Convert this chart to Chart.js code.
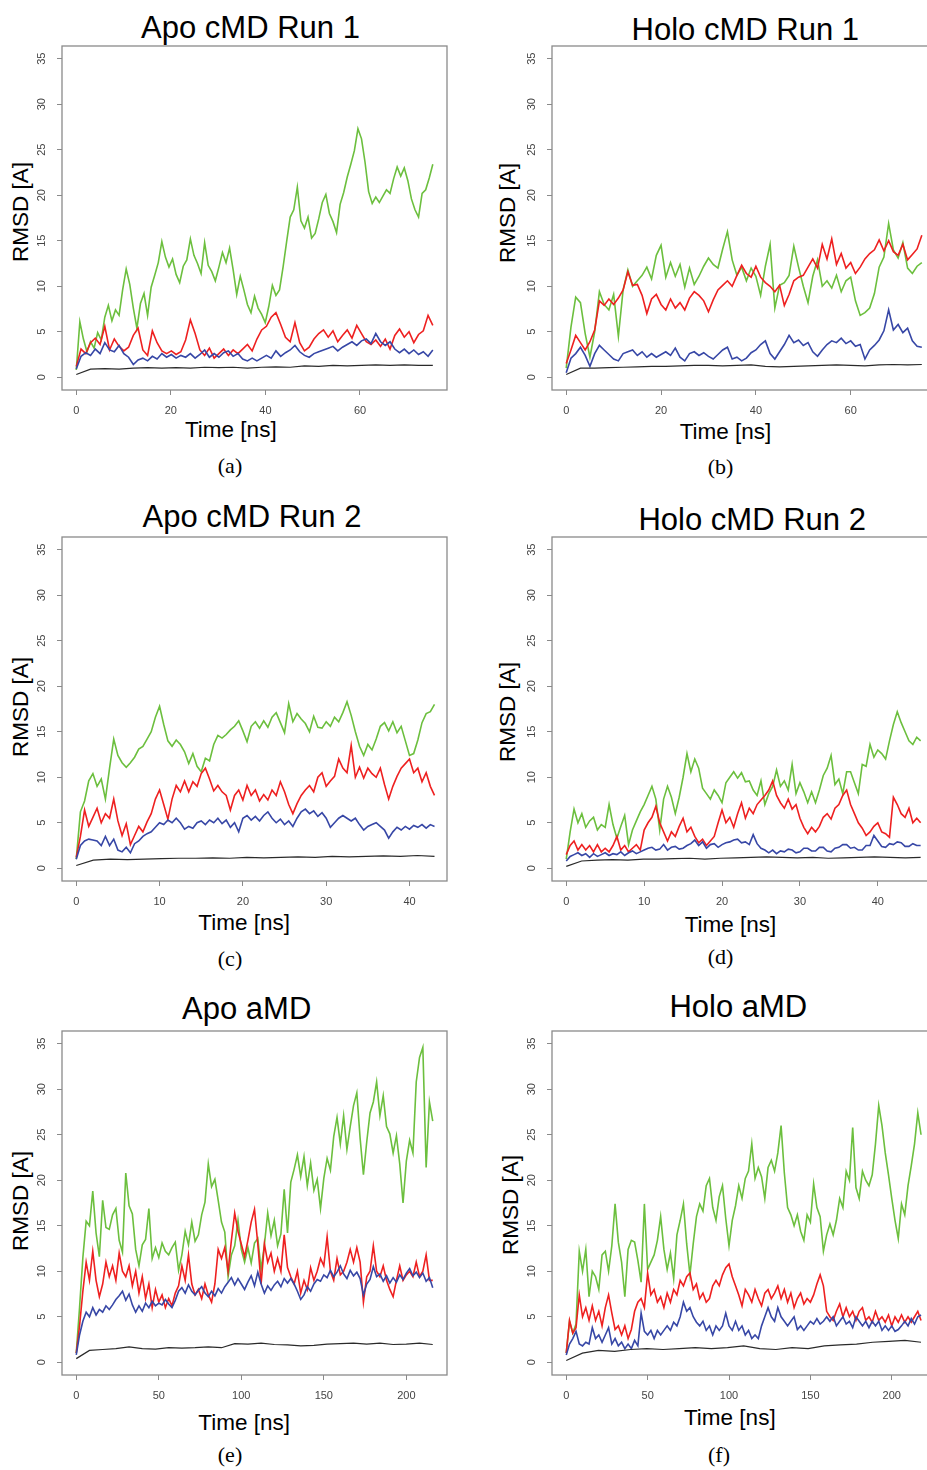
<!DOCTYPE html>
<html><head><meta charset="utf-8">
<script src="https://cdn.jsdelivr.net/npm/chart.js@4.4.1/dist/chart.umd.min.js"></script>
<style>
html,body{margin:0;padding:0;background:#fff;}
body{width:927px;height:1470px;position:relative;overflow:hidden;font-family:"Liberation Sans",Arial,sans-serif;}
.t{position:absolute;white-space:nowrap;line-height:1;transform:translate(-50%,-50%);color:#000;}
.title{font-size:31px;}
.xl{font-size:22.5px;}
.yl{font-size:22.5px;transform:translate(-50%,-50%) rotate(-90deg);}
.cap{font-family:"Liberation Serif","DejaVu Serif",serif;font-size:22px;}
canvas{position:absolute;}
</style></head><body>

<div class="t title" style="left:250.5px;top:27.2px">Apo cMD Run 1</div>
<div class="t yl" style="left:20.8px;top:211.7px">RMSD [A]</div>
<div class="t xl" style="left:230.8px;top:430px">Time [ns]</div>
<div class="t cap" style="left:230px;top:466px">(a)</div>

<div class="t title" style="left:745.3px;top:29.2px">Holo cMD Run 1</div>
<div class="t yl" style="left:508.2px;top:213px">RMSD [A]</div>
<div class="t xl" style="left:725.5px;top:432px">Time [ns]</div>
<div class="t cap" style="left:720.5px;top:467px">(b)</div>

<div class="t title" style="left:252px;top:515.5px">Apo cMD Run 2</div>
<div class="t yl" style="left:20.8px;top:706.7px">RMSD [A]</div>
<div class="t xl" style="left:244.2px;top:922.5px">Time [ns]</div>
<div class="t cap" style="left:230px;top:958.6px">(c)</div>

<div class="t title" style="left:752.2px;top:518.8px">Holo cMD Run 2</div>
<div class="t yl" style="left:508.2px;top:711.7px">RMSD [A]</div>
<div class="t xl" style="left:730.5px;top:924.7px">Time [ns]</div>
<div class="t cap" style="left:720.5px;top:957px">(d)</div>

<div class="t title" style="left:246.7px;top:1007.5px">Apo aMD</div>
<div class="t yl" style="left:20.8px;top:1201px">RMSD [A]</div>
<div class="t xl" style="left:244.2px;top:1422.5px">Time [ns]</div>
<div class="t cap" style="left:230px;top:1455.3px">(e)</div>

<div class="t title" style="left:738.3px;top:1005.5px">Holo aMD</div>
<div class="t yl" style="left:510.8px;top:1205px">RMSD [A]</div>
<div class="t xl" style="left:729.8px;top:1417.5px">Time [ns]</div>
<div class="t cap" style="left:719px;top:1455px">(f)</div>

<canvas id="cA" width="440" height="397" style="left:17px;top:28px"></canvas>
<canvas id="cB" width="440" height="397" style="left:507px;top:28px"></canvas>
<canvas id="cC" width="440" height="397" style="left:17px;top:519px"></canvas>
<canvas id="cD" width="440" height="397" style="left:507px;top:519px"></canvas>
<canvas id="cE" width="440" height="397" style="left:17px;top:1013px"></canvas>
<canvas id="cF" width="440" height="397" style="left:507px;top:1013px"></canvas>

<script>
// ---------- tick labels ----------
const yTicks = [0,5,10,15,20,25,30,35];
const xTicksRun1 = [0,20,40,60];
const xTicksRun2 = [0,10,20,30,40];
const xTicksAmd = [0,50,100,150,200];

// ---------- run lengths (ns) ----------
const durApo1 = 75.4, durHolo1 = 75, durApo2 = 43, durHolo2 = 45.5, durApoA = 216, durHoloA = 218;

// ---------- (a) Apo cMD Run 1 ----------
const apo1Green = [0.8,6.1,4.2,2.8,3.9,3.2,4.9,4.1,6.6,7.9,
 6.2,7.4,6.8,9.6,11.9,10.2,7.6,5.4,8.1,9.2,
 6.8,9.9,11.2,12.6,14.9,13.2,12.1,13.0,11.3,10.4,
 12.2,12.9,15.2,13.4,12.5,11.4,14.8,12.3,11.6,10.6,
 12.1,13.7,12.6,14.2,11.8,9.1,11.1,9.6,8.0,7.1,
 8.9,7.6,6.9,6.0,7.8,10.1,9.0,9.6,12.1,14.9,
 17.6,18.4,20.9,17.2,16.4,17.6,15.3,15.8,17.4,19.2,
 20.1,18.0,17.1,15.9,19.0,20.3,22.0,23.4,24.9,27.3,
 26.2,23.6,20.4,19.1,19.8,19.2,19.9,20.6,20.2,21.8,
 23.1,22.1,23.0,21.6,19.6,18.4,17.6,20.2,20.6,21.9,
 23.4];
const apo1Red = [1.2,3.1,2.6,3.8,4.3,3.6,5.6,3.0,4.2,3.4,
 2.9,3.3,4.6,5.4,3.0,2.4,5.1,3.8,2.9,2.6,
 2.9,2.5,2.8,4.1,6.3,4.8,3.0,2.4,3.2,2.1,
 2.6,3.1,2.4,3.0,2.6,3.1,3.6,2.9,4.2,5.2,
 5.6,6.6,7.1,5.8,4.4,3.9,6.0,3.8,2.9,3.3,
 4.2,4.8,5.2,4.4,5.1,3.9,4.6,5.2,4.3,5.7,
 4.8,3.9,3.6,4.1,3.4,4.2,3.1,4.6,5.3,4.4,
 5.0,3.8,4.7,5.1,6.8,5.7];
const apo1Blue = [0.9,2.3,2.7,2.4,3.1,2.6,3.8,3.0,2.8,3.5,
 2.6,2.2,1.4,1.9,2.1,1.8,2.3,2.0,2.6,2.2,
 2.5,2.1,2.4,2.2,2.6,2.1,2.5,3.0,2.2,2.6,
 2.2,2.7,2.9,2.3,2.6,2.0,1.8,2.1,1.8,2.1,
 2.4,2.1,2.9,2.3,2.7,3.0,3.5,2.8,2.4,2.2,
 2.6,2.8,3.0,3.2,3.4,2.9,3.3,3.6,3.9,3.5,
 4.0,4.2,3.7,4.8,3.9,3.5,3.9,3.1,2.7,3.1,
 2.6,3.0,2.5,2.8,2.3,3.0];
const apo1Black = [0.3,0.9,0.95,0.9,1.0,1.05,1.0,1.05,1.0,1.1,1.05,1.1,1.0,1.1,1.15,1.1,1.25,1.2,1.3,1.25,1.3,1.35,1.3,1.35,1.3,1.3];

// ---------- (b) Holo cMD Run 1 ----------
const holo1Green = [1.0,5.5,8.8,8.2,4.8,2.2,5.0,9.4,8.0,7.4,
 9.1,4.5,9.6,11.8,10.0,10.6,11.2,12.1,10.8,13.4,
 14.5,11.0,12.6,11.1,12.4,9.9,12.0,10.2,11.1,12.2,
 13.1,12.4,12.0,14.1,16.0,12.9,11.2,12.1,10.6,12.0,
 11.1,9.0,12.2,14.6,7.6,10.1,10.4,11.2,14.4,12.1,
 10.0,8.2,11.1,12.9,10.0,10.6,9.8,11.2,9.4,10.6,
 11.0,8.4,6.8,7.1,7.6,9.2,12.1,13.2,16.9,14.0,
 13.1,14.8,12.0,11.4,12.2,12.6];
const holo1Red = [1.5,3.0,4.6,3.8,3.0,3.9,5.2,8.4,7.9,8.6,
 8.0,8.7,9.6,11.6,10.1,10.2,9.0,7.0,8.6,9.1,
 8.0,7.4,8.6,7.6,8.2,7.4,8.7,9.4,9.0,8.4,
 7.2,8.5,9.6,10.1,10.6,10.0,11.2,12.3,11.4,11.0,
 12.2,11.0,10.4,10.0,9.4,10.1,7.9,9.1,10.6,11.0,
 11.2,12.1,13.0,12.0,14.6,13.0,15.2,12.4,13.6,12.0,
 12.6,11.4,12.1,13.0,13.6,14.0,15.1,13.9,15.0,13.8,
 13.4,14.6,12.9,13.5,14.1,15.6];
const holo1Blue = [0.5,2.1,2.6,3.3,2.4,1.2,2.6,3.5,3.0,2.5,
 2.0,1.8,2.6,2.8,3.0,2.4,2.8,2.2,2.6,2.2,
 2.5,2.8,2.4,3.2,2.2,1.8,2.6,2.8,2.4,2.7,
 2.3,2.0,2.5,3.0,3.3,2.0,2.2,1.8,2.1,2.7,
 3.0,3.6,4.0,2.6,2.0,2.8,3.6,4.6,3.8,4.1,
 3.5,3.8,2.8,2.3,3.0,3.6,4.0,3.8,4.3,3.7,
 4.0,3.4,3.6,2.0,3.0,3.5,4.1,5.1,7.4,5.2,
 5.8,4.9,5.4,4.0,3.4,3.3];
const holo1Black = [0.3,1.0,1.0,1.05,1.1,1.15,1.2,1.2,1.25,1.3,1.3,1.25,1.3,1.35,1.2,1.15,1.2,1.25,1.3,1.35,1.3,1.25,1.35,1.4,1.35,1.4];

// ---------- (c) Apo cMD Run 2 ----------
const apo2Green = [1.0,6.2,7.4,9.6,10.4,9.0,9.8,7.6,11.0,14.2,
 12.4,11.6,11.1,11.6,12.2,13.1,13.4,14.2,15.0,16.6,
 17.8,15.8,14.0,13.4,14.1,13.6,12.8,11.5,12.6,11.2,
 10.6,12.1,11.8,13.6,14.6,14.3,14.7,15.2,15.6,16.2,
 15.1,13.9,15.6,16.1,15.4,16.2,15.5,16.6,17.1,16.0,
 14.9,18.1,16.1,17.0,16.4,15.9,15.0,16.7,15.5,15.4,
 16.1,15.6,16.6,16.1,17.1,18.3,16.8,15.0,13.4,12.4,
 13.6,13.0,14.2,15.6,16.0,15.1,16.1,14.9,15.6,14.0,
 12.4,12.6,14.1,16.0,17.0,17.2,18.0];
const apo2Red = [1.2,3.5,6.4,4.6,5.6,6.6,5.0,6.0,5.5,7.6,
 5.2,3.6,4.9,2.6,3.6,4.6,4.0,5.1,6.0,7.6,
 8.6,7.0,5.4,7.6,9.1,8.4,9.6,8.4,9.5,9.0,
 10.4,11.0,9.8,8.5,9.1,8.4,8.0,6.4,8.0,8.6,
 7.5,9.1,8.0,8.6,7.4,8.1,7.5,8.6,8.0,9.5,
 8.4,7.0,6.0,7.1,8.0,8.6,9.1,8.4,10.0,10.5,
 9.0,9.6,10.1,12.0,11.0,10.5,13.5,10.0,11.1,9.9,
 11.0,10.4,10.0,11.0,9.2,7.6,9.0,10.1,11.0,11.5,
 12.0,10.5,11.0,9.5,10.5,9.0,8.0];
const apo2Blue = [1.0,2.5,3.0,3.2,3.1,3.0,2.5,3.5,2.5,3.2,
 2.0,1.8,2.3,1.7,2.7,3.0,3.5,3.8,4.0,4.5,
 5.0,4.8,5.3,5.0,5.5,5.0,4.3,4.6,4.4,5.0,
 5.2,4.8,5.3,5.0,5.5,4.9,5.3,4.5,5.0,4.0,
 5.5,5.8,5.3,5.7,5.2,5.8,6.2,5.5,5.0,5.4,
 4.8,5.2,4.6,5.5,6.2,6.5,6.0,6.3,5.7,6.1,
 5.5,4.5,5.0,5.5,5.8,5.5,5.2,5.5,4.8,4.2,
 4.6,4.8,5.0,4.6,4.2,3.3,4.0,4.5,4.2,4.6,
 4.3,4.7,4.5,4.8,4.4,4.8,4.6];
const apo2Black = [0.3,0.9,1.0,0.95,1.0,1.05,1.1,1.1,1.15,1.1,1.2,1.15,1.2,1.25,1.2,1.3,1.25,1.3,1.35,1.3,1.4,1.3];

// ---------- (d) Holo cMD Run 2 ----------
const holo2Green = [1.0,4.0,6.5,5.0,6.0,4.5,5.2,5.6,4.2,4.8,
 4.5,7.0,4.8,3.3,4.6,5.8,2.6,4.2,5.2,6.2,
 7.0,8.0,9.0,7.6,4.2,7.6,9.0,7.8,6.0,7.8,
 10.0,12.6,10.6,12.0,11.0,8.8,8.2,7.6,8.6,8.0,
 7.2,9.4,10.0,10.6,9.9,10.5,9.5,9.6,8.6,8.0,
 9.6,7.0,8.2,9.0,10.8,9.0,9.6,8.6,11.4,8.2,
 9.4,8.4,7.2,8.4,7.2,8.6,10.2,11.0,12.4,9.2,
 9.8,8.2,10.6,10.6,9.4,8.2,11.4,11.2,13.6,12.2,
 13.0,12.6,12.0,14.0,15.8,17.2,16.0,15.0,14.0,13.6,
 14.4,14.0];
const holo2Red = [1.5,2.5,3.0,2.0,2.6,2.0,2.5,1.8,2.6,1.8,
 2.2,1.8,2.5,3.5,2.0,2.5,1.8,2.2,2.6,2.0,
 4.2,5.0,5.6,6.8,5.0,4.0,3.0,4.0,3.5,4.6,
 5.5,4.0,4.5,3.5,2.8,3.2,2.5,3.0,3.5,5.0,
 6.4,5.0,5.6,4.5,6.0,7.2,5.5,6.6,6.0,7.0,
 7.5,8.0,8.6,9.6,8.0,7.2,6.6,7.6,6.5,7.0,
 5.5,4.5,3.8,4.5,4.0,4.6,5.6,6.0,5.4,6.6,
 7.0,8.0,8.6,7.0,6.0,5.0,4.4,3.6,4.0,4.6,
 5.0,4.0,3.8,3.4,7.8,7.0,6.0,5.6,6.6,5.0,
 5.5,5.0];
const holo2Blue = [0.8,1.3,1.5,1.7,1.4,1.6,1.2,1.6,1.3,1.5,
 1.7,1.4,1.6,1.5,1.8,1.4,1.7,1.9,1.6,1.8,
 2.0,2.2,2.3,2.0,2.1,2.6,2.0,2.3,2.4,2.1,
 2.2,2.5,2.7,3.1,2.5,2.9,2.2,2.6,2.7,2.3,
 2.6,2.8,2.9,3.1,3.2,2.8,2.9,2.6,3.7,2.7,
 2.2,2.0,1.7,2.0,1.6,1.9,1.8,2.1,2.0,1.7,
 1.8,2.2,2.2,1.9,1.9,2.3,2.3,1.9,1.8,2.2,
 2.3,2.6,2.6,2.2,2.3,2.0,2.0,2.5,2.5,3.6,
 3.0,2.4,2.3,2.7,2.6,2.9,2.8,2.4,2.4,2.7,
 2.5,2.5];
const holo2Black = [0.2,0.8,0.9,0.95,0.9,1.0,1.0,1.05,1.1,1.0,1.1,1.15,1.2,1.25,1.2,1.15,1.2,1.1,1.15,1.2,1.25,1.2,1.15,1.2];

// ---------- (e) Apo aMD ----------
const apoAGreen = [1.0,6.0,11.5,15.5,15.0,18.8,14.2,11.6,17.8,14.8,
 14.6,16.2,16.9,13.4,12.1,20.8,17.2,16.3,12.4,10.6,
 12.9,13.5,16.9,11.4,12.6,11.5,13.1,12.2,11.8,12.6,
 13.2,10.1,11.8,14.4,12.9,15.4,13.3,14.0,16.2,17.6,
 21.8,19.3,20.1,17.8,15.4,14.3,9.4,11.8,12.8,15.6,
 12.4,11.0,12.6,10.9,13.1,13.6,10.2,12.9,16.4,13.9,
 15.6,12.8,14.1,19.0,14.2,19.8,21.2,22.8,20.4,22.6,
 19.4,21.9,18.9,20.1,16.9,20.2,22.4,21.1,24.8,26.9,
 24.0,27.1,23.4,25.9,28.2,29.6,24.6,20.6,24.2,27.4,
 28.6,30.8,27.1,29.3,25.9,25.1,23.0,24.9,21.8,17.5,
 22.1,24.4,23.0,30.8,33.5,34.6,21.4,28.6,26.5];
const apoARed = [1.0,4.0,7.8,11.0,9.0,12.2,9.0,7.2,8.6,11.0,
 9.4,10.6,9.0,12.0,10.0,9.4,10.6,8.4,10.0,7.6,
 9.4,7.0,8.6,6.0,8.0,6.6,7.4,6.0,7.0,6.2,
 7.6,8.4,10.6,9.0,11.8,8.6,7.4,8.0,7.0,8.6,
 7.4,6.6,8.6,12.4,11.4,12.6,10.0,13.4,16.4,14.4,
 13.0,11.6,13.4,15.4,16.8,13.0,8.6,13.0,11.0,12.0,
 10.0,11.4,10.0,14.0,10.4,9.4,8.6,10.0,7.6,9.0,
 8.0,10.4,9.0,10.0,11.4,10.6,13.8,10.0,9.0,11.4,
 9.6,10.0,11.0,12.4,11.0,12.6,11.0,6.6,9.4,10.0,
 12.8,10.0,9.4,10.6,9.0,8.0,7.2,9.0,10.6,9.0,
 9.6,10.0,9.4,11.0,9.4,10.0,11.8,9.0,9.0];
const apoABlue = [0.8,3.0,4.5,5.5,5.0,6.0,5.2,5.8,5.5,6.2,
 5.8,6.3,6.9,7.3,7.8,6.8,7.5,6.3,5.5,6.2,
 5.6,6.5,6.0,6.7,6.2,6.5,6.3,6.9,6.4,6.0,
 6.8,7.8,8.2,7.6,8.5,7.8,7.4,7.9,8.3,7.6,
 7.2,7.8,7.3,8.1,7.6,8.3,8.8,9.3,8.5,9.2,
 8.6,8.0,8.8,9.5,8.4,9.9,8.6,7.6,8.4,7.9,
 8.5,8.9,8.3,9.2,8.7,9.2,8.6,7.8,6.9,7.4,
 8.3,7.8,8.6,9.1,8.9,9.6,9.3,10.1,9.4,9.9,
 10.6,9.7,9.2,10.1,9.5,9.9,9.2,7.4,8.6,9.1,
 10.5,9.4,9.7,8.9,9.5,8.7,9.3,8.8,9.6,9.1,
 9.8,10.3,9.5,9.9,9.3,9.8,8.9,9.3,8.2];
const apoABlack = [0.4,1.3,1.4,1.5,1.7,1.5,1.45,1.6,1.55,1.6,1.7,1.6,2.05,2.0,2.1,1.95,1.9,1.8,1.85,2.0,2.05,2.1,2.0,2.1,1.95,2.0,2.1,1.95];

// ---------- (f) Holo aMD ----------
const holoAGreen = [1.0,4.5,3.2,4.2,12.2,10.0,12.4,7.2,10.0,9.4,
 8.0,11.8,12.2,10.0,12.8,17.4,13.2,11.0,7.2,12.4,
 13.4,13.2,11.2,8.8,17.4,10.2,11.0,11.8,13.4,16.0,
 12.4,10.2,12.0,9.2,14.0,15.6,17.4,13.0,9.6,13.0,
 16.0,17.4,16.6,19.4,20.2,17.0,15.6,18.2,19.4,15.8,
 12.8,15.6,17.2,19.4,18.0,20.2,21.0,24.0,20.2,21.4,
 20.4,18.0,21.4,22.2,21.0,23.0,26.0,20.8,17.0,16.2,
 15.0,16.2,14.4,13.4,16.2,15.4,19.6,17.0,16.0,12.2,
 14.0,15.2,14.0,15.6,18.0,17.0,21.0,20.0,25.8,19.2,
 18.0,21.0,20.0,19.4,20.6,24.0,28.2,26.0,23.0,20.6,
 18.0,15.6,13.6,17.4,16.2,19.4,21.6,24.0,27.4,25.0];
const holoARed = [1.0,4.6,3.2,3.8,7.4,5.0,6.0,4.6,6.2,4.6,
 5.6,4.0,6.0,7.4,5.4,3.6,4.0,3.0,4.0,2.6,
 3.6,5.6,6.6,7.0,6.0,9.8,7.4,8.0,6.6,7.2,
 6.0,7.6,6.6,8.0,7.4,9.0,8.4,9.4,9.8,8.0,
 8.6,7.0,7.6,6.6,7.0,8.4,9.0,8.4,9.6,10.4,
 10.8,9.4,8.4,7.4,6.2,8.0,7.4,6.6,8.0,7.0,
 6.2,7.6,8.0,7.0,7.6,8.4,7.0,8.0,6.6,7.6,
 6.0,7.0,7.6,6.4,7.0,6.6,7.4,8.6,9.6,8.4,
 5.6,5.0,4.6,5.6,6.4,5.0,6.0,5.0,5.6,4.6,
 5.6,6.0,4.6,5.0,4.4,5.6,4.6,5.0,4.4,5.2,
 4.0,5.0,4.4,5.2,4.4,5.0,4.4,5.0,5.6,4.6];
const holoABlue = [0.8,2.0,2.6,3.4,2.0,1.8,2.2,2.0,3.8,2.6,
 3.0,2.2,3.0,3.8,2.0,2.6,1.8,2.2,1.5,2.0,
 1.5,2.4,1.8,5.4,3.4,3.0,3.5,2.6,3.5,3.0,
 3.5,4.0,3.5,4.4,4.0,5.0,6.6,5.6,6.0,5.0,
 4.4,4.0,4.5,3.5,4.0,3.0,4.0,3.5,4.0,5.4,
 4.0,3.5,4.5,3.5,4.0,3.0,3.5,2.6,3.0,2.6,
 4.0,5.0,6.0,5.0,4.5,6.0,5.0,4.5,4.0,4.5,
 5.0,3.6,4.0,3.5,4.0,4.5,4.2,4.8,4.2,4.5,
 5.0,4.5,5.0,4.0,4.5,5.0,4.2,4.5,3.8,5.0,
 4.5,4.0,4.5,3.8,4.5,4.0,4.5,3.5,4.0,3.5,
 4.0,3.4,3.6,4.0,4.5,4.0,4.8,4.2,5.0,5.2];
const holoABlack = [0.2,1.0,1.3,1.2,1.4,1.5,1.4,1.5,1.6,1.5,1.6,1.8,1.5,1.4,1.6,1.5,1.8,1.9,2.0,2.2,2.3,2.4,2.2];

// ---------- drawing ----------
const COLORS = {green:'#6cbf3e', red:'#ee2020', blue:'#3747a6', black:'#2a2a2a'};
const FONT = {family:'"Liberation Sans", Arial, sans-serif', size:11};

const boxPlugin = {
  id:'rbox',
  afterDraw(chart){
    const {ctx, chartArea:a} = chart;
    ctx.save();
    ctx.strokeStyle = '#8a8a8a';
    ctx.lineWidth = 1.3;
    ctx.strokeRect(a.left, a.top, a.right - a.left, a.bottom - a.top);
    ctx.restore();
  }
};

function series(vals, dur, color, w){
  return {
    data: vals.map((v,i) => ({x: i * dur / (vals.length - 1), y: v})),
    borderColor: color, borderWidth: w, pointRadius: 0, tension: 0, fill: false
  };
}

function makePanel(id, dur, xMin, xMax, xTicks, g, r, b, k){
  new Chart(document.getElementById(id), {
    type: 'line',
    data: { datasets: [
      series(k, dur, COLORS.black, 1.2),
      series(b, dur, COLORS.blue, 1.6),
      series(r, dur, COLORS.red, 1.6),
      series(g, dur, COLORS.green, 1.6)
    ]},
    options: {
      responsive: false, animation: false, devicePixelRatio: 1,
      layout: { padding: { top: 18, right: 10, left: 0, bottom: 0 } },
      plugins: { legend: {display:false}, tooltip: {enabled:false} },
      scales: {
        x: {
          type: 'linear', min: xMin, max: xMax,
          afterBuildTicks: s => { s.ticks = xTicks.map(v => ({value: v})); },
          afterFit: s => { s.height = 35; },
          grid: { display: true, drawOnChartArea: false, drawTicks: true, tickLength: 5, color: '#8a8a8a', lineWidth: 1 },
          border: { display: false },
          ticks: { font: FONT, color: '#444', padding: 9.5, maxRotation: 0, minRotation: 0, autoSkip: false }
        },
        y: {
          type: 'linear', min: -1.4, max: 36.4,
          afterBuildTicks: s => { s.ticks = yTicks.map(v => ({value: v})); },
          afterFit: s => { s.width = 45; },
          grid: { display: true, drawOnChartArea: false, drawTicks: true, tickLength: 5, color: '#8a8a8a', lineWidth: 1 },
          border: { display: false },
          ticks: { font: FONT, color: '#444', padding: 8.5, minRotation: 90, maxRotation: 90, crossAlign: 'center', autoSkip: false }
        }
      }
    },
    plugins: [boxPlugin]
  });
}

makePanel('cA', durApo1, -3.02, 78.4, xTicksRun1, apo1Green, apo1Red, apo1Blue, apo1Black);
makePanel('cB', durHolo1, -3.0, 78.2, xTicksRun1, holo1Green, holo1Red, holo1Blue, holo1Black);
makePanel('cC', durApo2, -1.71, 44.5, xTicksRun2, apo2Green, apo2Red, apo2Blue, apo2Black);
makePanel('cD', durHolo2, -1.83, 47.6, xTicksRun2, holo2Green, holo2Red, holo2Blue, holo2Black);
makePanel('cE', durApoA, -8.64, 224.64, xTicksAmd, apoAGreen, apoARed, apoABlue, apoABlack);
makePanel('cF', durHoloA, -8.76, 227.8, xTicksAmd, holoAGreen, holoARed, holoABlue, holoABlack);
</script>
</body></html>
